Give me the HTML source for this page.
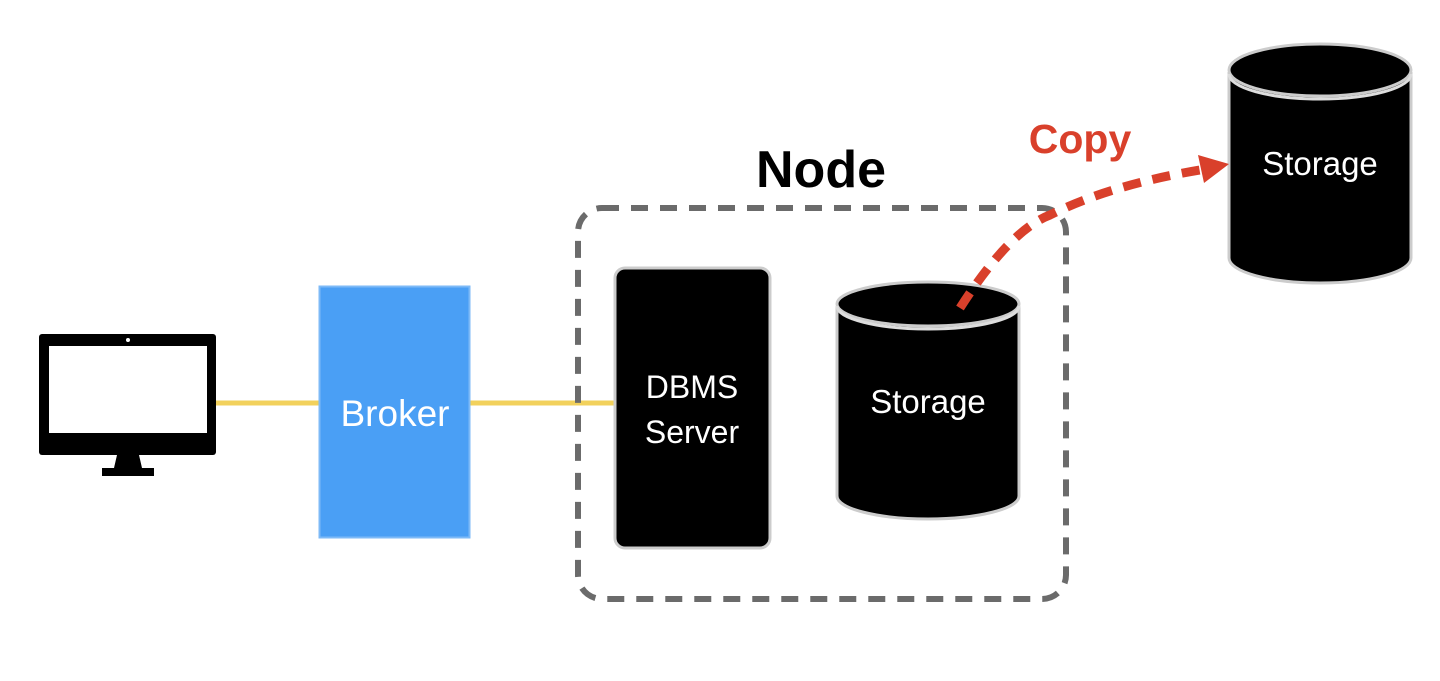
<!DOCTYPE html>
<html><head><style>html,body{margin:0;padding:0;background:#fff;}svg{display:block}</style></head>
<body>
<svg width="1440" height="681" viewBox="0 0 1440 681" xmlns="http://www.w3.org/2000/svg" font-family="Liberation Sans, sans-serif">
<rect width="1440" height="681" fill="#fff"/>
<line x1="214" y1="403" x2="321" y2="403" stroke="#f2d15c" stroke-width="5"/>
<line x1="469" y1="403" x2="616" y2="403" stroke="#f2d15c" stroke-width="5"/>
<rect x="39" y="334" width="177" height="121" rx="3" fill="#000"/>
<rect x="49" y="346" width="158" height="87" fill="#fff"/>
<circle cx="128" cy="340" r="2" fill="#fff"/>
<polygon points="117,455 139,455 142,468 114,468" fill="#000"/>
<rect x="102" y="468" width="52" height="8" fill="#000"/>
<rect x="319.5" y="286.5" width="150" height="251" fill="#4a9ff5" stroke="#7dbaf7" stroke-width="2"/>
<text x="395" y="426" font-size="37" fill="#fff" text-anchor="middle">Broker</text>
<rect x="578" y="208" width="488" height="391" rx="24" fill="none" stroke="#6b6b6b" stroke-width="6" stroke-dasharray="17 12"/>
<text x="821" y="187" font-size="52" font-weight="bold" text-anchor="middle">Node</text>
<rect x="615" y="268" width="155" height="280" rx="10" fill="#000" stroke="#ccc" stroke-width="3"/>
<text x="692" y="398" font-size="32" fill="#fff" text-anchor="middle">DBMS</text>
<text x="692" y="443" font-size="32" fill="#fff" text-anchor="middle">Server</text>
<path d="M837 306 L837 496 A91 23 0 0 0 1019 496 L1019 306" fill="#000" stroke="#ccc" stroke-width="3"/>
<ellipse cx="928" cy="304" rx="91" ry="22" fill="#000" stroke="#ccc" stroke-width="3"/>
<path d="M837 306 A91 23 0 0 0 1019 306" fill="none" stroke="#ddd" stroke-width="3"/>
<text x="928" y="413" font-size="33" fill="#fff" text-anchor="middle">Storage</text>
<path d="M1229 72 L1229 258 A91 25 0 0 0 1411 258 L1411 72" fill="#000" stroke="#ccc" stroke-width="3"/>
<ellipse cx="1320" cy="70" rx="91" ry="26" fill="#000" stroke="#ccc" stroke-width="3"/>
<path d="M1229 74 A91 25 0 0 0 1411 74" fill="none" stroke="#ddd" stroke-width="3"/>
<text x="1320" y="175" font-size="33" fill="#fff" text-anchor="middle">Storage</text>
<path d="M960 308 Q1010 230 1050 215 Q1110 185 1200 170" fill="none" stroke="#d9402b" stroke-width="9" stroke-dasharray="18 12"/>
<polygon points="1229,164 1198,155 1204,183" fill="#d9402b"/>
<text x="1080" y="153" font-size="41" font-weight="bold" fill="#d9402b" text-anchor="middle">Copy</text>
</svg>
</body></html>
